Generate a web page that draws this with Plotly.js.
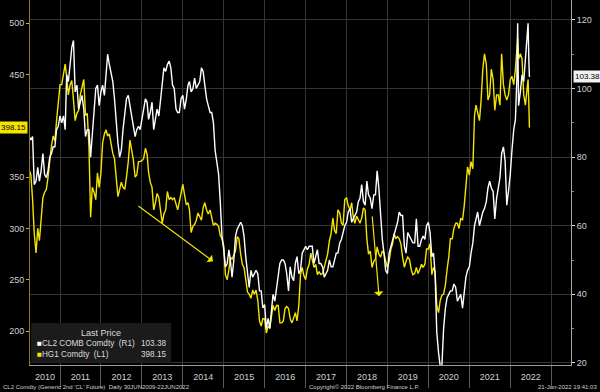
<!DOCTYPE html>
<html><head><meta charset="utf-8">
<script src="https://cdn.plot.ly/plotly-3.0.1.min.js"></script>
<style>html,body{margin:0;padding:0;background:#000;}#chart{width:600px;height:392px;}</style>
</head><body><div id="chart"></div>
<script>
// CL2 (WTI 2nd future, right axis) - semi-monthly readings (1st & 16th of each month)
const cl2_2010 = [86,85,86,72,73,77,73,76,81,75,74,76,80,81,83,83,88,89]; // from April
const cl2_2011 = [92,90,92,88,104,102,107,112,114,99,101,94,96,98,94,86,88,88,80,87,93,100,101,95];
const cl2_2012 = [99,101,98,105,110,107,104,102,97,90,84,80,82,88,92,97,98,95,92,88,86,88,89,88];
const cl2_2013 = [91,94,97,96,91,93,96,88,91,94,92,97,100,106,105,107,108,106,101,100,94,93,93,97];
const cl2_2014 = [98,94,97,101,102,99,100,103,100,101,102,106,105,101,97,95,93,93,90,82,79,75,67,57];
const cl2_2015 = [53,48,49,53,50,45,50,57,59,60,61,60,57,51,46,42,47,45,46,47,46,41,41,36];
const cl2_2016 = [37,30,33,30,35,40,38,42,46,49,50,50,49,46,41,48,45,44,49,51,46,47,52,53];
const cl2_2017 = [54,53,54,54,54,49,51,53,49,49,48,45,46,47,50,48,48,50,52,52,55,56,58,60];
const cl2_2018 = [61,64,65,61,62,63,64,67,68,72,67,66,73,69,68,65,69,69,76,71,63,56,52,47];
const cl2_2019 = [46,52,54,56,57,59,61,64,63,63,54,52,58,57,56,55,55,62,54,54,56,57,56,60];
const cl2_2020 = [61,58,51,52,46,29,23,19,21,30,36,39,40,41,41,43,42,38,39,40,36,41,45,47];
const cl2_2021 = [48,52,55,60,62,64,60,62,64,65,67,71,73,71,70,62,68,71,74,81,83,79,66,70];
const cl2_2022 = [75,82,88,91,103,95,99,104,102,108,114,108]; // to June
const cl2ExtraDates = ['2020-04-21','2022-03-08','2022-06-09','2022-06-21'];
const cl2ExtraVals  = [12,119,119,103.38];

// HG1 (copper, left axis)
const hg_2010 = [357,352,328,295,276,300,288,310,330,335,338,350,368,380,390,385,405,420]; // from April
const hg_2011 = [440,440,452,460,448,430,440,444,425,405,412,415,430,438,445,410,412,380,311,340,335,328,354,340];
const hg_2012 = [354,383,392,396,390,392,380,373,368,347,331,338,345,340,338,350,365,386,376,367,350,352,365,365];
const hg_2013 = [366,368,378,372,355,345,340,318,325,334,330,315,305,314,318,336,328,330,328,330,323,318,326,335];
const hg_2014 = [343,333,323,325,318,296,302,304,308,315,312,308,320,325,318,314,318,310,303,305,304,302,293,290];
const hg_2015 = [283,255,250,260,272,270,275,278,292,290,275,265,262,250,238,236,232,240,236,240,230,210,205,212];
const hg_2016 = [212,198,205,203,215,225,220,225,225,208,208,210,222,224,222,212,208,214,218,210,225,255,262,254];
const hg_2017 = [250,260,265,276,270,262,265,255,258,255,256,262,268,275,288,295,310,298,295,318,315,305,303,328];
const hg_2018 = [330,322,318,325,312,305,312,308,305,310,320,318,290,275,278,262,268,270,282,275,272,278,276,268];
const hg_2019 = [262,268,280,285,295,290,292,290,285,272,262,268,272,270,260,255,256,262,256,260,265,262,265,280];
const hg_2020 = [280,285,255,262,258,225,218,230,235,236,245,260,272,290,290,300,305,305,300,310,308,322,340,360];
const hg_2021 = [352,365,358,410,420,412,405,425,455,470,460,425,430,455,445,415,430,430,420,470,440,430,425,430];
const hg_2022 = [445,448,440,455,470,465,470,465,430,420,440,420]; // to June
const hgExtraDates = ['2022-03-08','2022-06-09','2022-06-21'];
const hgExtraVals  = [485,445,398.15];

const yearLabels = ['2010','2011','2012','2013','2014','2015','2016','2017','2018','2019','2020','2021','2022'];
const leftTicks = [200,250,300,350,450,500]; // 400 is hidden behind the last-price tag
const xRange = ['2010-04-08','2023-06-27'];

function pad(n){return String(n).padStart(2,'0');}
function semi(year, startMonth, vals){
  return vals.map((v,i)=>{const m=startMonth+Math.floor(i/2);const d=i%2?16:1;return [year+'-'+pad(m)+'-'+pad(d), v];});
}
function build(yearArrays, exDates, exVals){
  let pts=[];
  yearArrays.forEach((arr,k)=>{const y=2010+k; pts=pts.concat(semi(y, k===0?4:1, arr));});
  exDates.forEach((d,i)=>pts.push([d, exVals[i]]));
  pts.sort((a,b)=>a[0]<b[0]?-1:(a[0]>b[0]?1:0));
  return {x:pts.map(p=>p[0]), y:pts.map(p=>p[1])};
}
const cl2 = build([cl2_2010,cl2_2011,cl2_2012,cl2_2013,cl2_2014,cl2_2015,cl2_2016,cl2_2017,cl2_2018,cl2_2019,cl2_2020,cl2_2021,cl2_2022], cl2ExtraDates, cl2ExtraVals);
const hg = build([hg_2010,hg_2011,hg_2012,hg_2013,hg_2014,hg_2015,hg_2016,hg_2017,hg_2018,hg_2019,hg_2020,hg_2021,hg_2022], hgExtraDates, hgExtraVals);
const lastCL2 = cl2.y[cl2.y.length-1];
const lastHG = hg.y[hg.y.length-1];

// year label positions: middle of the visible part of each year
const r0 = new Date(xRange[0]+'T00:00:00Z').getTime(), r1 = new Date(xRange[1]+'T00:00:00Z').getTime();
const xTickVals = yearLabels.map(y=>{
  const s=Math.max(Date.UTC(+y,0,1), r0), e=Math.min(Date.UTC(+y+1,0,1), r1);
  return new Date((s+e)/2).toISOString().slice(0,10);
});

const YEL = '#f5e400';
const traces = [
  {x:hg.x, y:hg.y, type:'scatter', mode:'lines', yaxis:'y', line:{color:YEL, width:1.4}, name:'HG1 Comdty (L1)'},
  {x:cl2.x, y:cl2.y, type:'scatter', mode:'lines', yaxis:'y2', line:{color:'#ffffff', width:1.4}, name:'CL2 COMB Comdty (R1)'}
];

const NB = '\u00a0';
const LF = {size:8.2, color:'#dcdcdc'};
const layout = {
  width:600, height:392, paper_bgcolor:'#000', plot_bgcolor:'#000',
  margin:{l:30, r:29, t:0, b:27}, showlegend:false,
  font:{family:'Liberation Sans, Arial, sans-serif', color:'#cfcfcf', size:9},
  xaxis:{type:'date', range:xRange, tickmode:'array', tickvals:xTickVals, ticktext:yearLabels,
    ticks:'', showgrid:false, showline:true, linecolor:'#9a9a9a', linewidth:1, zeroline:false,
    tickfont:{size:9, color:'#d0d0d0'}, ticklabelstandoff:3,
    minor:{tickmode:'linear', tick0:'2010-01-01', dtick:'M12', showgrid:true, gridcolor:'#353535', gridwidth:1,
      ticks:'outside', ticklen:22, tickcolor:'#5a5a5a', tickwidth:1}},
  yaxis:{range:[167,522.4], tickmode:'array', tickvals:leftTicks, showgrid:false, zeroline:false,
    showline:true, linecolor:'#8a7a1c', linewidth:1, ticks:'outside', ticklen:3, tickcolor:'#c8b430',
    tickfont:{size:9, color:'#cfcfcf'}},
  yaxis2:{overlaying:'y', side:'right', range:[19.4,125.8], tickmode:'linear', tick0:0, dtick:20,
    showgrid:true, gridcolor:'#353535', gridwidth:1, zeroline:false, showline:true, linecolor:'#a8a8a8', linewidth:1,
    ticks:'outside', ticklen:3, tickcolor:'#e0e0e0', tickfont:{size:9, color:'#cfcfcf'},
    minor:{tickmode:'linear', tick0:0, dtick:10, ticks:'outside', ticklen:2, tickcolor:'#8a8a8a', showgrid:false}},
  shapes:[
    {type:'rect', xref:'paper', yref:'paper', x0:0.002, x1:0.261, y0:0.006, y1:0.115, fillcolor:'#1b1b1b', line:{width:0}, layer:'above'}
  ],
  annotations:[
    // legend
    {xref:'paper', yref:'paper', x:0.131, y:0.087, text:'Last Price', showarrow:false, font:{size:9, color:'#dcdcdc'}, xanchor:'center', yanchor:'middle'},
    {xref:'paper', yref:'paper', x:0.009, y:0.058, text:'<span style="color:#ffffff">■</span>CL2 COMB Comdty'+NB+NB+'(R1)', showarrow:false, font:LF, xanchor:'left', yanchor:'middle'},
    {xref:'paper', yref:'paper', x:0.256, y:0.058, text:lastCL2.toFixed(2), showarrow:false, font:LF, xanchor:'right', yanchor:'middle'},
    {xref:'paper', yref:'paper', x:0.009, y:0.030, text:'<span style="color:'+YEL+'">■</span>HG1 Comdty'+NB+NB+'(L1)', showarrow:false, font:LF, xanchor:'left', yanchor:'middle'},
    {xref:'paper', yref:'paper', x:0.256, y:0.030, text:lastHG.toFixed(2), showarrow:false, font:LF, xanchor:'right', yanchor:'middle'},
    // last value tags
    {xref:'paper', yref:'y', x:0, y:lastHG, text:lastHG.toFixed(2), showarrow:false, xanchor:'right', yanchor:'middle', xshift:-2,
      bgcolor:YEL, font:{size:8, color:'#000'}, borderpad:1},
    {xref:'paper', yref:'y2', x:1, y:lastCL2, text:lastCL2.toFixed(2), showarrow:false, xanchor:'left', yanchor:'middle', xshift:2,
      bgcolor:'#f2f2f2', font:{size:8, color:'#000'}, borderpad:1},
    // arrows
    {xref:'x', yref:'y', axref:'x', ayref:'y', x:'2014-09-27', y:268, ax:'2012-11-17', ay:323, text:'', showarrow:true,
      arrowhead:1, arrowsize:1.3, arrowwidth:1.2, arrowcolor:YEL},
    {xref:'x', yref:'y', axref:'x', ayref:'y', x:'2018-10-18', y:234, ax:'2018-08-17', ay:313, text:'', showarrow:true,
      arrowhead:1, arrowsize:1.3, arrowwidth:1.2, arrowcolor:YEL},
    // footer
    {xref:'paper', yref:'paper', x:-0.054, y:-0.061, text:"CL2 Comdty (Generic 2nd 'CL' Future)"+NB+NB+"Daily 30JUN2009-22JUN2022", showarrow:false, xanchor:'left', yanchor:'middle', font:{size:6, color:'#d0d0d0'}},
    {xref:'paper', yref:'paper', x:0.512, y:-0.061, text:'Copyright© 2022 Bloomberg Finance L.P.', showarrow:false, xanchor:'left', yanchor:'middle', font:{size:6, color:'#d0d0d0'}},
    {xref:'paper', yref:'paper', x:1.052, y:-0.061, text:'21-Jun-2022 19:41:03', showarrow:false, xanchor:'right', yanchor:'middle', font:{size:6, color:'#d0d0d0'}}
  ]
};
Plotly.newPlot('chart', traces, layout, {displayModeBar:false, staticPlot:true});
</script></body></html>
